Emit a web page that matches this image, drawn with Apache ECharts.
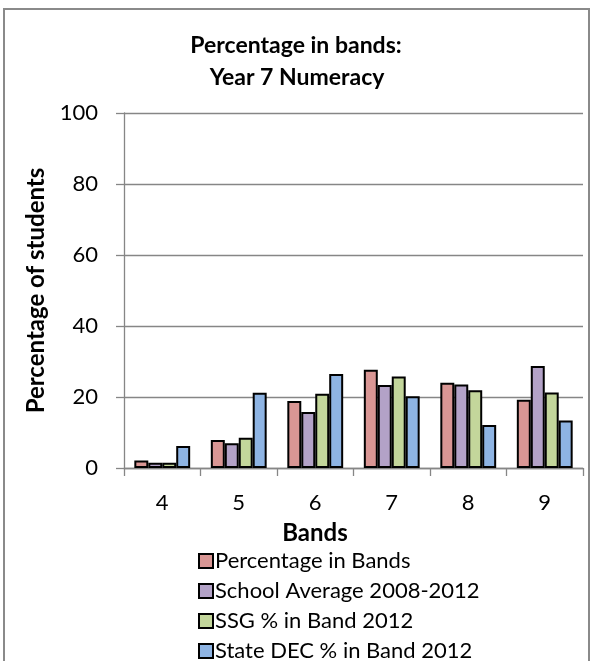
<!DOCTYPE html>
<html>
<head>
<meta charset="utf-8">
<script src="https://cdn.jsdelivr.net/npm/echarts@6/dist/echarts.min.js"></script>
<style>
html,body{margin:0;padding:0;background:#fff;}
#c{width:592px;height:661px;}
</style>
</head>
<body>
<div id="c"></div>
<script>
const categories = ['4', '5', '6', '7', '8', '9'];
const seriesNames = ['Percentage in Bands', 'School Average 2008-2012', 'SSG % in Band 2012', 'State DEC % in Band 2012'];
const percentageInBands = [2.1, 7.9, 18.9, 27.7, 24.0, 19.2];
const schoolAverage = [1.5, 7.0, 15.8, 23.4, 23.5, 28.7];
const ssgBand2012 = [1.5, 8.5, 20.9, 25.8, 21.9, 21.3];
const stateDecBand2012 = [6.2, 21.2, 26.5, 20.2, 12.1, 13.4];
const yTicks = [0, 20, 40, 60, 80, 100];
const titleLines = ['Percentage in bands:', 'Year 7 Numeracy'];
const xAxisTitle = 'Bands';
const yAxisTitle = 'Percentage of students';
const colors = ['#D99694', '#B3A2C7', '#C3D69B', '#8EB4E3'];

const FONT = 'Lato';
const chart = echarts.init(document.getElementById('c'), null, {renderer: 'canvas'});
const dataSets = [percentageInBands, schoolAverage, ssgBand2012, stateDecBand2012];

const legendBase = {
  orient: 'vertical', left: 193,
  itemWidth: 14, itemHeight: 14, itemGap: 8,
  icon: 'rect',
  textStyle: {fontFamily: FONT, fontSize: 22, lineHeight: 22, color: '#000', padding: [0,0,0,-3]}
};

chart.setOption({
  animation: false,
  backgroundColor: '#fff',
  textStyle: {fontFamily: FONT, color: '#000'},
  graphic: [
    {type: 'rect', shape: {x: 4, y: 9, width: 585, height: 660},
     style: {fill: 'none', stroke: '#8a8a8a', lineWidth: 2}, silent: true},
    {type: 'text', x: 296, y: 46, silent: true,
     style: {text: titleLines[0], fontFamily: FONT, fontWeight: 'bold', fontSize: 23, fill: '#000', align: 'center', verticalAlign: 'middle'}},
    {type: 'text', x: 297, y: 78, silent: true,
     style: {text: titleLines[1], fontFamily: FONT, fontWeight: 'bold', fontSize: 23, fill: '#000', align: 'center', verticalAlign: 'middle'}},
    {type: 'text', x: 315, y: 533, silent: true,
     style: {text: xAxisTitle, fontFamily: FONT, fontWeight: 'bold', fontSize: 24, fill: '#000', align: 'center', verticalAlign: 'middle'}}
  ],
  legend: [
    Object.assign({}, legendBase, {top: 545, data: seriesNames.slice(0, 3)}),
    Object.assign({}, legendBase, {top: 635, data: seriesNames.slice(3)})
  ],
  grid: {left: 124, right: 9, top: 113, bottom: 193, containLabel: false},
  xAxis: {
    type: 'category', data: categories,
    axisLine: {lineStyle: {color: '#868686', width: 1.3}},
    axisTick: {show: true, length: 8, alignWithLabel: false, lineStyle: {color: '#868686', width: 1.3}},
    axisLabel: {fontFamily: FONT, fontSize: 22, color: '#000', margin: 24}
  },
  yAxis: {
    type: 'value', min: 0, max: 100, interval: 20,
    name: yAxisTitle, nameLocation: 'middle', nameGap: 76,
    nameTextStyle: {fontFamily: FONT, fontWeight: 'bold', fontSize: 24, color: '#000'},
    axisLine: {show: true, lineStyle: {color: '#868686', width: 1.3}},
    axisTick: {show: true, length: 8, lineStyle: {color: '#868686', width: 1.3}},
    axisLabel: {fontFamily: FONT, fontSize: 22, color: '#000', margin: 26,
      formatter: v => yTicks.includes(v) ? String(v) : ''},
    splitLine: {show: true, lineStyle: {color: '#868686', width: 1.3}}
  },
  series: dataSets.map((d, i) => ({
    name: seriesNames[i], type: 'bar', data: d,
    barGap: '0%', barCategoryGap: '27%',
    itemStyle: {color: colors[i], borderColor: '#000', borderWidth: 2}
  }))
});
</script>
</body>
</html>
